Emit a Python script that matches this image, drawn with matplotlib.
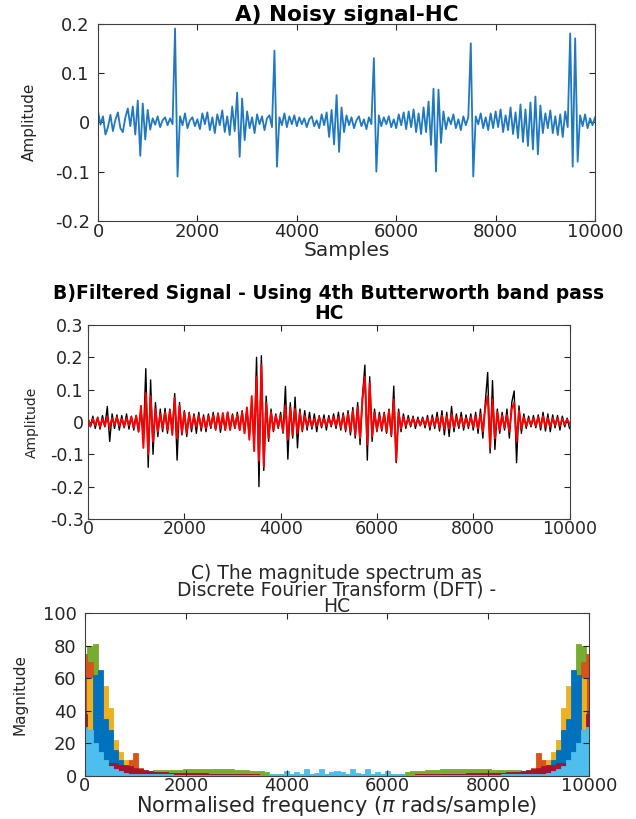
import matplotlib
matplotlib.use("Agg")
import matplotlib.pyplot as plt
import numpy as np

plt.rcParams['font.family'] = ['DejaVu Sans']
plt.rcParams['axes.unicode_minus'] = False

# ---- A) noisy signal, one value every 50 samples ----
step_a = 50
noisy = [
    0.022, -0.005, 0.012, -0.025, -0.010, 0.015, -0.018, 0.005, 0.020, -0.012,
    -0.020, 0.010, 0.028, -0.008, 0.032, -0.025, 0.044, -0.068, 0.038, -0.035,
    0.025, -0.015, 0.008, -0.005, 0.012, -0.010, 0.004, 0.010, -0.006, 0.008,
    -0.004, 0.190, -0.110, 0.012, -0.006, 0.018, -0.012, 0.004, 0.010, -0.008,
    0.006, -0.014, 0.018, -0.004, 0.020, -0.016, 0.010, -0.022, 0.016, -0.006,
    0.024, -0.020, 0.012, -0.026, 0.032, -0.018, 0.060, -0.070, 0.048, -0.036,
    0.022, -0.012, 0.010, -0.022, 0.016, -0.004, 0.012, -0.016, 0.008, 0.014,
    -0.010, 0.145, -0.090, 0.010, -0.006, 0.018, -0.010, 0.012, -0.004, 0.014,
    -0.008, 0.010, -0.004, 0.008, -0.010, 0.006, 0.012, -0.008, 0.004, -0.012,
    0.016, -0.006, 0.020, -0.030, 0.025, -0.045, 0.055, -0.060, 0.030, -0.020,
    0.014, -0.006, 0.010, -0.012, 0.004, 0.012, -0.008, 0.006, -0.014, 0.010,
    -0.004, 0.130, -0.100, 0.014, -0.008, 0.010, -0.004, 0.012, -0.010, 0.006,
    -0.012, 0.016, -0.006, 0.020, -0.014, 0.022, -0.010, 0.026, -0.020, 0.018,
    -0.024, 0.030, -0.020, 0.042, -0.046, 0.068, -0.100, 0.066, -0.042, 0.022,
    -0.014, 0.010, -0.004, 0.016, -0.012, 0.006, -0.016, 0.012, -0.006, 0.010,
    0.160, -0.110, 0.012, -0.004, 0.018, -0.012, 0.010, -0.016, 0.018, -0.012,
    0.022, -0.010, 0.026, -0.020, 0.014, -0.016, 0.030, -0.024, 0.020, -0.032,
    0.036, -0.040, 0.026, -0.048, 0.040, -0.055, 0.052, -0.065, 0.034, -0.022,
    0.018, -0.012, 0.024, -0.022, 0.012, -0.026, 0.016, -0.030, 0.022, -0.010,
    0.180, -0.090, 0.170, -0.080, 0.014, -0.008, 0.016, -0.012, 0.008, -0.006,
    0.010,
]

# ---- B) filtered signal (black = raw trace behind, red = filtered) ----
step_b = 50
filt_black = [
    0.012, -0.015, 0.018, -0.020, 0.015, -0.022, 0.020, -0.015, 0.048, -0.060,
    0.025, -0.020, 0.022, -0.025, 0.020, -0.018, 0.025, -0.022, 0.018, -0.025,
    0.020, -0.030, 0.040, -0.050, 0.165, -0.140, 0.130, -0.100, 0.060, -0.045,
    0.040, -0.030, 0.042, -0.035, 0.040, -0.030, 0.088, -0.118, 0.060, -0.040,
    0.035, -0.045, 0.030, -0.030, 0.025, -0.035, 0.030, -0.028, 0.022, -0.030,
    0.025, -0.020, 0.030, -0.025, 0.028, -0.032, 0.020, -0.025, 0.030, -0.022,
    0.025, -0.020, 0.030, -0.025, 0.035, -0.030, 0.040, -0.045, 0.060, -0.070,
    0.200, -0.200, 0.205, -0.150, 0.080, -0.060, 0.040, -0.030, 0.025, -0.020,
    0.030, -0.035, 0.110, -0.115, 0.060, -0.050, 0.077, -0.080, 0.040, -0.030,
    0.035, -0.025, 0.030, -0.022, 0.025, -0.030, 0.020, -0.018, 0.022, -0.025,
    0.020, -0.015, 0.025, -0.020, 0.030, -0.025, 0.028, -0.030, 0.035, -0.040,
    0.045, -0.050, 0.060, -0.070, 0.080, 0.176, -0.118, 0.140, -0.060, 0.040,
    -0.030, 0.030, -0.028, 0.030, -0.035, 0.040, -0.045, 0.111, -0.126, 0.040,
    -0.030, 0.025, -0.020, 0.020, -0.015, 0.018, -0.020, 0.015, -0.012, 0.015,
    -0.018, 0.020, -0.025, 0.022, -0.020, 0.030, -0.028, 0.035, -0.040, 0.030,
    -0.045, 0.048, -0.030, 0.025, -0.020, 0.030, -0.025, 0.022, -0.020, 0.025,
    -0.025, 0.030, -0.035, 0.040, -0.050, 0.060, 0.153, -0.096, 0.128, -0.085,
    0.040, -0.035, 0.030, -0.025, 0.040, -0.050, 0.060, 0.096, -0.126, 0.050,
    -0.035, 0.025, -0.020, 0.018, -0.015, 0.020, -0.018, 0.022, -0.025, 0.030,
    -0.028, 0.025, -0.030, 0.022, -0.018, 0.020, -0.025, 0.018, -0.015, 0.012,
    -0.020,
]
filt_red = [
    0.008, -0.012, 0.010, -0.010, 0.012, -0.015, 0.010, -0.012, 0.015, -0.018,
    0.012, -0.010, 0.015, -0.012, 0.010, -0.015, 0.012, -0.010, 0.015, -0.018,
    0.020, -0.030, 0.050, -0.080, 0.090, -0.100, 0.080, -0.060, 0.040, -0.030,
    0.025, -0.020, 0.030, -0.025, 0.035, -0.040, 0.075, -0.050, 0.050, -0.035,
    0.030, -0.035, 0.025, -0.020, 0.018, -0.015, 0.020, -0.018, 0.015, -0.020,
    0.018, -0.015, 0.020, -0.022, 0.025, -0.020, 0.028, -0.025, 0.030, -0.025,
    0.020, -0.018, 0.022, -0.025, 0.030, -0.035, 0.045, -0.055, 0.080, -0.090,
    0.140, -0.120, 0.176, -0.138, 0.060, -0.050, 0.030, -0.025, 0.020, -0.015,
    0.020, -0.030, 0.050, -0.055, 0.045, -0.040, 0.040, -0.035, 0.030, -0.025,
    0.020, -0.015, 0.012, -0.015, 0.010, -0.012, 0.015, -0.012, 0.010, -0.012,
    0.012, -0.010, 0.015, -0.012, 0.015, -0.018, 0.020, -0.022, 0.025, -0.030,
    0.035, -0.040, 0.045, -0.050, 0.070, 0.140, -0.070, 0.120, -0.045, 0.030,
    -0.025, 0.020, -0.022, 0.025, -0.030, 0.035, -0.040, 0.070, -0.120, 0.030,
    -0.020, 0.015, -0.012, 0.010, -0.010, 0.012, -0.010, 0.008, -0.010, 0.010,
    -0.010, 0.012, -0.015, 0.012, -0.012, 0.015, -0.018, 0.020, -0.022, 0.018,
    -0.020, 0.025, -0.018, 0.015, -0.012, 0.015, -0.015, 0.012, -0.012, 0.015,
    -0.015, 0.018, -0.020, 0.025, -0.030, 0.045, 0.080, -0.080, 0.070, -0.050,
    0.030, -0.025, 0.020, -0.018, 0.022, -0.030, 0.040, 0.060, -0.060, 0.035,
    -0.020, 0.015, -0.012, 0.010, -0.010, 0.012, -0.012, 0.015, -0.015, 0.018,
    -0.015, 0.012, -0.015, 0.012, -0.010, 0.012, -0.012, 0.010, -0.008, 0.008,
    -0.005,
]

# ---- C) DFT magnitude, half spectrum every 100 bins (0..5000), mirrored ----
step_c = 100
mag_green = [
    50, 80, 81, 40, 30, 20, 12, 8, 5, 4,
    3.5, 3.2, 3, 3.2, 3.4, 3.5, 3.6, 3.6, 3.8, 3.8,
    4, 4, 4.2, 4, 4.2, 4.3, 4.2, 4, 4.2, 4,
    3.8, 3.8, 3.5, 3.3, 3, 2.8, 2.5, 1.5, 1.2, 1,
    1, 1, 1, 1, 1, 1, 1, 1, 1, 1,
    1,
]
mag_orange = [
    75, 70, 60, 30, 25, 20, 14, 10, 9, 10,
    14, 5, 3, 2.5, 2.2, 2, 1.8, 1.8, 1.6, 1.6,
    1.5, 1.5, 1.4, 1.4, 1.3, 1.3, 1.2, 1.2, 1.1, 1,
    1, 0.9, 0.8, 0.8, 0.7, 0.6, 0.5, 0.5, 0.5, 0.5,
    0.5, 0.5, 0.5, 0.5, 0.5, 0.5, 0.5, 0.5, 0.5, 0.5,
    0.5,
]
mag_purple = [
    40, 35, 30, 22, 16, 12, 8, 6, 5, 4,
    3, 3, 2.5, 2.2, 2, 1.8, 1.8, 1.6, 1.6, 1.5,
    1.5, 1.4, 1.4, 1.3, 1.3, 1.2, 1.2, 1.1, 1, 1,
    1, 0.9, 0.8, 0.8, 0.7, 0.6, 0.5, 0.5, 0.5, 0.5,
    0.5, 0.5, 0.5, 0.5, 0.5, 0.5, 0.5, 0.5, 0.5, 0.5,
    0.5,
]
mag_yellow = [
    35, 60, 45, 40, 55, 42, 22, 15, 10, 6,
    5, 4, 3, 2.5, 2.2, 2, 1.8, 1.8, 1.6, 1.6,
    1.5, 1.5, 1.4, 1.4, 1.3, 1.3, 1.2, 1.2, 1.1, 1,
    1, 0.9, 0.8, 0.8, 0.7, 0.6, 0.5, 0.5, 0.5, 0.5,
    0.5, 0.5, 0.5, 0.5, 0.5, 0.5, 0.5, 0.5, 0.5, 0.5,
    0.5,
]
mag_blue = [
    30, 28, 62, 65, 35, 28, 16, 10, 6, 5,
    4, 3.5, 3, 2.5, 2.2, 2, 1.8, 1.8, 1.6, 1.6,
    1.5, 1.5, 1.4, 1.4, 1.3, 1.3, 1.2, 1.2, 1.1, 1,
    1, 0.9, 0.8, 0.8, 0.7, 0.6, 0.5, 0.5, 0.5, 0.5,
    0.5, 0.5, 0.5, 0.5, 0.5, 0.5, 0.5, 0.5, 0.5, 0.5,
    0.5,
]
mag_darkred = [
    38, 12, 10, 9, 8.5, 8, 8, 7, 7, 6,
    5, 4, 3.5, 3, 2.6, 2.4, 2.2, 2, 2, 1.9,
    1.8, 1.8, 1.7, 1.6, 1.6, 1.5, 1.5, 1.4, 1.4, 1.3,
    1.2, 1.2, 1.1, 1, 1, 0.9, 0.8, 0.8, 0.7, 0.7,
    0.6, 0.6, 0.6, 0.5, 0.5, 0.5, 0.5, 0.5, 0.5, 0.5,
    0.5,
]
mag_lightblue = [
    30, 28, 20, 15, 10, 6, 4, 3, 2, 1.5,
    1.2, 1, 1, 1, 1, 1, 1, 1, 0.9, 0.9,
    0.8, 0.8, 0.8, 0.8, 0.8, 0.8, 0.8, 0.8, 0.8, 0.8,
    0.8, 0.8, 0.8, 0.8, 0.8, 0.8, 0.9, 1, 1.2, 1.5,
    3, 1.2, 2.5, 1.5, 4.5, 1.5, 2, 4, 1.5, 2.5,
    3,
]
# back to front
spectra = [mag_green, mag_orange, mag_purple, mag_yellow, mag_blue,
           mag_darkred, mag_lightblue]
spec_colors = ['#77AC30', '#D95319', '#7E2F8E', '#EDB120', '#0072BD',
               '#A2142F', '#4DBEEE']

x_ticks = [0, 2000, 4000, 6000, 8000, 10000]
x_ticklabels = ['0', '2000', '4000', '6000', '8000', '10000']
a_yticks = [-0.2, -0.1, 0, 0.1, 0.2]
a_yticklabels = ['-0.2', '-0.1', '0', '0.1', '0.2']
b_yticks = [-0.3, -0.2, -0.1, 0, 0.1, 0.2, 0.3]
b_yticklabels = ['-0.3', '-0.2', '-0.1', '0', '0.1', '0.2', '0.3']
c_yticks = [0, 20, 40, 60, 80, 100]
c_yticklabels = ['0', '20', '40', '60', '80', '100']

txt = '#262626'


def matlabAxes(ax, size, xpad, ypad):
    # box on, ticks pointing inward on all four sides like MATLAB
    ax.tick_params(direction='in', top=True, right=True, length=4, width=0.8,
                   colors=txt, labelsize=size)
    ax.tick_params(axis='x', pad=xpad)
    ax.tick_params(axis='y', pad=ypad)
    for s in ax.spines.values():
        s.set_color('#404040')
        s.set_linewidth(0.8)


fig = plt.figure(figsize=(6.36, 8.19), dpi=100)

# A
axA = fig.add_axes([0.1541, 0.7302, 0.7815, 0.2411])
xa = np.arange(len(noisy)) * step_a
axA.plot(xa, noisy, color='#1f78c0', linewidth=1.3)
axA.set_xlim(0, 10000)
axA.set_ylim(-0.2, 0.2)
axA.set_xticks(x_ticks)
axA.set_xticklabels(x_ticklabels)
axA.set_yticks(a_yticks)
axA.set_yticklabels(a_yticklabels)
matlabAxes(axA, 13, 1.5, 6)
axA.set_title('A) Noisy signal-HC', fontsize=15.5, fontweight='bold', pad=2, color='black')
axA.set_xlabel('Samples', fontsize=14.5, color=txt, labelpad=0)
axA.set_ylabel('Amplitude', fontsize=11, color=txt)
axA.yaxis.set_label_coords(-0.123, 0.5)

# B
axB = fig.add_axes([0.1384, 0.3663, 0.7571, 0.2369])
xb = np.arange(len(filt_black)) * step_b
axB.plot(xb, filt_black, color='black', linewidth=1.0)
axB.plot(xb, filt_red, color='#ff0000', linewidth=1.4)
axB.set_xlim(0, 10000)
axB.set_ylim(-0.3, 0.3)
axB.set_xticks(x_ticks)
axB.set_xticklabels(x_ticklabels)
axB.set_yticks(b_yticks)
axB.set_yticklabels(b_yticklabels)
matlabAxes(axB, 12.5, 1, 3)
axB.set_title('B)Filtered Signal - Using 4th Butterworth band pass',
              fontsize=13.5, fontweight='bold', pad=19, color='black')
axB.text(0.5, 1.012, 'HC', transform=axB.transAxes, ha='center', va='bottom',
         fontsize=13.5, fontweight='bold', color='black')
axB.set_ylabel('Amplitude', fontsize=10, color=txt)
axB.yaxis.set_label_coords(-0.102, 0.5)

# C
axC = fig.add_axes([0.1336, 0.0525, 0.7925, 0.1990])
for mag, col in zip(spectra, spec_colors):
    half = np.array(mag, dtype=float)
    full = np.concatenate([half, half[-2::-1]])
    xc = np.arange(len(full)) * step_c
    axC.fill_between(xc, 0, full, step='mid', color=col, linewidth=0.6, edgecolor=col)
axC.set_xlim(0, 10000)
axC.set_ylim(0, 100)
axC.set_xticks(x_ticks)
axC.set_xticklabels(x_ticklabels)
axC.set_yticks(c_yticks)
axC.set_yticklabels(c_yticklabels)
matlabAxes(axC, 13, 1, 6)
axC.set_title('C) The magnitude spectrum as\nDiscrete Fourier Transform (DFT) -\nHC',
              fontsize=13.5, pad=0.5, linespacing=0.85, color=txt)
axC.set_xlabel(r'Normalised frequency ($\pi$ rads/sample)', fontsize=15, color=txt, labelpad=-1)
axC.set_ylabel('Magnitude', fontsize=11, color=txt)
axC.yaxis.set_label_coords(-0.115, 0.5)

fig.savefig('out.png', dpi=100)
